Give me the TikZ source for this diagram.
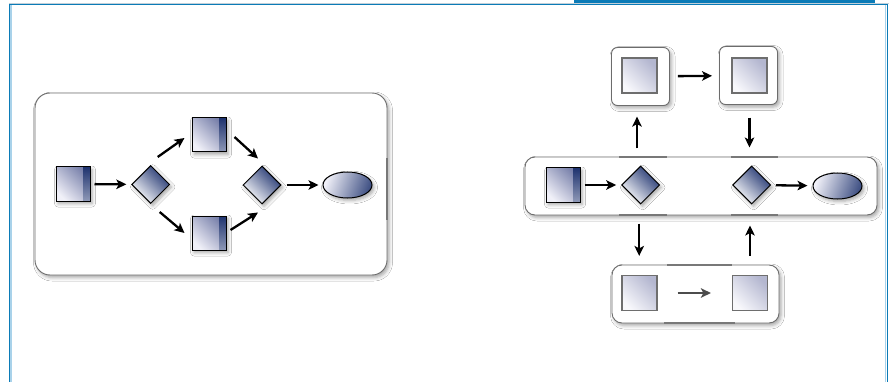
\documentclass[tikz,border=0pt]{standalone}
\usetikzlibrary{shapes.geometric, arrows.meta, shadows.blur, calc}

\definecolor{frameblue}{HTML}{0B7BB7}
\definecolor{framelight}{HTML}{A9D2EA}
\definecolor{navy}{HTML}{1F336F}
\definecolor{navymid}{HTML}{7880AA}
\definecolor{paleblue}{HTML}{F0F0F8}
\definecolor{lilac}{HTML}{B4B7D0}
\definecolor{edgegray}{HTML}{6E6E6E}
\definecolor{portgray}{HTML}{787878}

\tikzset{
  softshadow/.style={blur shadow={shadow xshift=2pt, shadow yshift=-2.5pt,
      shadow blur radius=3.5pt, shadow opacity=35}},
  % activity box with a dark band on its right side
  tasksq/.style={rectangle, draw=black, line width=1pt, minimum size=34pt, inner sep=0pt,
      top color=navymid, bottom color=paleblue, shading angle=-45, softshadow,
      path picture={\shade[top color=navy, bottom color=navy!50!white]
        ([xshift=-7pt]path picture bounding box.north east)
        rectangle (path picture bounding box.south east);}},
  gate/.style={diamond, aspect=1, draw=black, line width=1pt, minimum size=38pt,
      inner sep=0pt, top color=navy, bottom color=white, shading angle=-45, softshadow},
  endev/.style={ellipse, draw=black, line width=1pt, minimum width=49pt,
      minimum height=26pt, inner sep=0pt, left color=paleblue, right color=navy!85,
      shading angle=70, softshadow},
  subsq/.style={rectangle, draw=edgegray, line width=1.2pt, minimum size=35pt,
      inner sep=0pt, top color=lilac, bottom color=paleblue!50!white, shading angle=-45},
  holder/.style={draw=gray!85!black, line width=0.9pt, fill=white, softshadow},
  arr/.style={line width=2.3pt, -{Stealth[length=10pt, width=9.5pt, inset=2.5pt]}},
  port/.style={line width=1.6pt, draw=portgray, line cap=butt},
}

\begin{document}
\begin{tikzpicture}[x=1pt, y=-1pt]
  \useasboundingbox (0,0) rectangle (893,382);
  \fill[white] (0,0) rectangle (893,382);

  % page frame
  \fill[frameblue] (574,0) rectangle (875,5.3);
  \draw[framelight!60!gray!60, line width=1pt] (9,3.3) -- (889,3.3);
  \draw[framelight, line width=1.2pt] (10.9,5.5) -- (10.9,382);
  \draw[framelight, line width=1.2pt] (885.7,5.5) -- (885.7,382);
  \draw[frameblue, line width=1.4pt] (9.5,382) -- (9.5,4.8) -- (887.7,4.8) -- (887.7,382);

  % ---------- left: parallel split and join ----------
  \node[holder, rounded corners=15pt, minimum width=352pt, minimum height=182pt,
        inner sep=0pt] (pool) at (211,184) {};
  \draw[port] (387,158) -- (387,220);

  \node[tasksq] (s1) at (73,184) {};
  \node[gate]   (d1) at (150.7,184.5) {};
  \node[tasksq] (t1) at (209,135) {};
  \node[tasksq] (b1) at (209,233) {};
  \node[gate]   (d2) at (262,185) {};
  \node[endev]  (e1) at (347.5,185) {};

  \draw[arr, shorten <=4pt, shorten >=5pt] (s1) -- (d1);
  \draw[arr] ([shift={(7,-8)}]d1.north) -- ([shift={(-7,3)}]t1.west);
  \draw[arr] ([shift={(9,8)}]d1.south) -- ([shift={(-7,0)}]b1.west);
  \draw[arr] ([shift={(8,2)}]t1.east) -- ([shift={(-4,-7)}]d2.north);
  \draw[arr] ([shift={(4,-3)}]b1.east) -- ([shift={(-4,8)}]d2.south);
  \draw[arr, shorten <=5pt, shorten >=4pt] (d2) -- (e1);

  % ---------- right: main flow with two sub-flows ----------
  \node[holder, rounded corners=6pt, minimum width=58pt, minimum height=58pt,
        inner sep=0pt] (o1) at (640.5,76.5) {};
  \node[holder, rounded corners=6pt, minimum width=58pt, minimum height=58pt,
        inner sep=0pt] (o2) at (748.5,75.5) {};
  \node[holder, rounded corners=10pt, minimum width=352pt, minimum height=58pt,
        inner sep=0pt] (main) at (701,186) {};
  \node[holder, rounded corners=10pt, minimum width=167pt, minimum height=58pt,
        inner sep=0pt] (lower) at (695.5,294) {};

  \draw[port] (619,157) -- (667,157);
  \draw[port] (731,157) -- (778,157);
  \draw[port] (619,215) -- (667,215);
  \draw[port] (731,215) -- (778,215);
  \draw[port] (667,265) -- (732,265);
  \draw[port] (664,323) -- (735,323);

  \node[subsq]  (q1) at (639.5,75.5) {};
  \node[subsq]  (q2) at (749.5,75.5) {};
  \node[subsq]  (q3) at (639.5,293) {};
  \node[subsq]  (q4) at (750,293) {};

  \node[tasksq] (s2) at (563,185) {};
  \node[gate]   (d3) at (640.7,185) {};
  \node[gate]   (d4) at (751.7,185) {};
  \node[endev]  (e2) at (837.5,186) {};

  \draw[arr, shorten <=4pt, shorten >=5pt] (s2) -- (d3);
  \draw[arr, shorten <=5pt, shorten >=5pt] (d4) -- (e2);

  \draw[arr] ([shift={(-2.5,-17)}]q1.south |- d3.north)
        -- ([shift={(-2.5,23)}]q1.south);
  \draw[arr, shorten <=8pt, shorten >=7pt] (o1) -- (o2);
  \draw[arr] ([shift={(0,24)}]q2.south) -- ([shift={(0,-18)}]q2.south |- d4.north);
  \draw[arr] ([shift={(-1.5,19)}]d3.south) -- ([shift={(-1.5,-19)}]d3.south |- q3.north);
  \draw[arr] ([shift={(0,-19)}]q4.north) -- ([shift={(0,21)}]q4.north |- d4.south);
  \draw[arr, draw=gray!60!black, line width=1.8pt, shorten <=20pt, shorten >=21pt]
        (q3) -- (q4);
\end{tikzpicture}
\end{document}
